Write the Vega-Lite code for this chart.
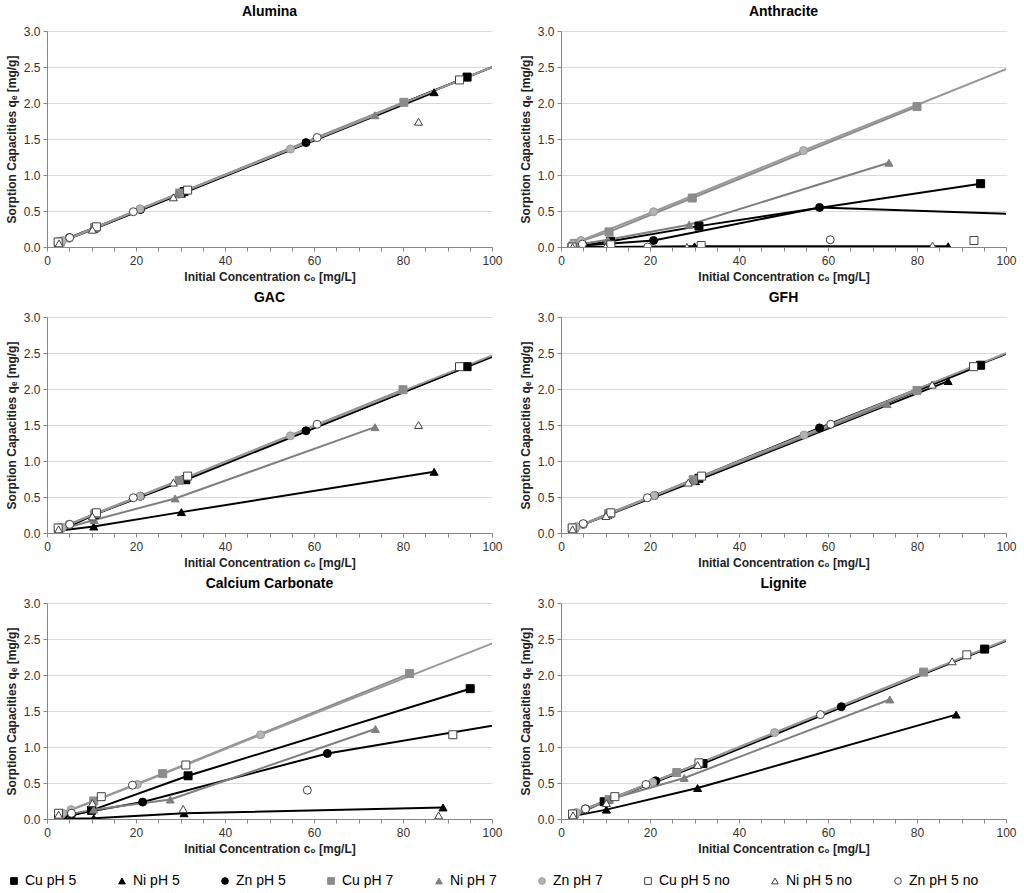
{
"$schema": "https://vega.github.io/schema/vega-lite/v6.json",
"padding": 5,
"data": {"values": [
{"panel":"Alumina","series":"Cu pH 5","c0":2.6,"q":0.06},{"panel":"Alumina","series":"Cu pH 5","c0":10.8,"q":0.27},{"panel":"Alumina","series":"Cu pH 5","c0":30.8,"q":0.77},{"panel":"Alumina","series":"Cu pH 5","c0":94.4,"q":2.36},
{"panel":"Alumina","series":"Ni pH 5","c0":2.6,"q":0.06},{"panel":"Alumina","series":"Ni pH 5","c0":10.5,"q":0.25},{"panel":"Alumina","series":"Ni pH 5","c0":30.2,"q":0.74},{"panel":"Alumina","series":"Ni pH 5","c0":87,"q":2.15},
{"panel":"Alumina","series":"Zn pH 5","c0":2.6,"q":0.06},{"panel":"Alumina","series":"Zn pH 5","c0":5,"q":0.13},{"panel":"Alumina","series":"Zn pH 5","c0":21,"q":0.52},{"panel":"Alumina","series":"Zn pH 5","c0":58.2,"q":1.45},{"panel":"Alumina","series":"Zn pH 5","c0":112,"q":2.8},
{"panel":"Alumina","series":"Cu pH 7","c0":3,"q":0.07},{"panel":"Alumina","series":"Cu pH 7","c0":10.8,"q":0.27},{"panel":"Alumina","series":"Cu pH 7","c0":29.8,"q":0.75},{"panel":"Alumina","series":"Cu pH 7","c0":80.2,"q":2.01},
{"panel":"Alumina","series":"Ni pH 7","c0":2.6,"q":0.06},{"panel":"Alumina","series":"Ni pH 7","c0":10.3,"q":0.25},{"panel":"Alumina","series":"Ni pH 7","c0":29.2,"q":0.73},{"panel":"Alumina","series":"Ni pH 7","c0":73.7,"q":1.83},
{"panel":"Alumina","series":"Zn pH 7","c0":3.5,"q":0.09},{"panel":"Alumina","series":"Zn pH 7","c0":5,"q":0.12},{"panel":"Alumina","series":"Zn pH 7","c0":20.9,"q":0.53},{"panel":"Alumina","series":"Zn pH 7","c0":54.7,"q":1.36},{"panel":"Alumina","series":"Zn pH 7","c0":112,"q":2.8},
{"panel":"Alumina","series":"Cu pH 5 no","c0":2.5,"q":0.07},{"panel":"Alumina","series":"Cu pH 5 no","c0":11.1,"q":0.28},{"panel":"Alumina","series":"Cu pH 5 no","c0":31.6,"q":0.79},{"panel":"Alumina","series":"Cu pH 5 no","c0":92.7,"q":2.32},
{"panel":"Alumina","series":"Ni pH 5 no","c0":2.7,"q":0.05},{"panel":"Alumina","series":"Ni pH 5 no","c0":10.2,"q":0.24},{"panel":"Alumina","series":"Ni pH 5 no","c0":28.4,"q":0.69},{"panel":"Alumina","series":"Ni pH 5 no","c0":83.5,"q":1.74},
{"panel":"Alumina","series":"Zn pH 5 no","c0":5.1,"q":0.13},{"panel":"Alumina","series":"Zn pH 5 no","c0":19.4,"q":0.49},{"panel":"Alumina","series":"Zn pH 5 no","c0":60.7,"q":1.52},

{"panel":"Anthracite","series":"Cu pH 5","c0":2.5,"q":0.0},{"panel":"Anthracite","series":"Cu pH 5","c0":11.1,"q":0.08},{"panel":"Anthracite","series":"Cu pH 5","c0":31,"q":0.29},{"panel":"Anthracite","series":"Cu pH 5","c0":94.3,"q":0.88},
{"panel":"Anthracite","series":"Ni pH 5","c0":2.5,"q":0.0},{"panel":"Anthracite","series":"Ni pH 5","c0":10.3,"q":0.0},{"panel":"Anthracite","series":"Ni pH 5","c0":30,"q":0.01},{"panel":"Anthracite","series":"Ni pH 5","c0":87,"q":0.01},
{"panel":"Anthracite","series":"Zn pH 5","c0":2.5,"q":0.0},{"panel":"Anthracite","series":"Zn pH 5","c0":5,"q":0.02},{"panel":"Anthracite","series":"Zn pH 5","c0":20.8,"q":0.09},{"panel":"Anthracite","series":"Zn pH 5","c0":58.1,"q":0.55},{"panel":"Anthracite","series":"Zn pH 5","c0":115,"q":0.43},
{"panel":"Anthracite","series":"Cu pH 7","c0":3,"q":0.05},{"panel":"Anthracite","series":"Cu pH 7","c0":10.8,"q":0.21},{"panel":"Anthracite","series":"Cu pH 7","c0":29.5,"q":0.68},{"panel":"Anthracite","series":"Cu pH 7","c0":80,"q":1.95},
{"panel":"Anthracite","series":"Ni pH 7","c0":2.6,"q":0.02},{"panel":"Anthracite","series":"Ni pH 7","c0":10.5,"q":0.1},{"panel":"Anthracite","series":"Ni pH 7","c0":28.8,"q":0.31},{"panel":"Anthracite","series":"Ni pH 7","c0":73.7,"q":1.17},
{"panel":"Anthracite","series":"Zn pH 7","c0":2.6,"q":0.04},{"panel":"Anthracite","series":"Zn pH 7","c0":4.5,"q":0.09},{"panel":"Anthracite","series":"Zn pH 7","c0":20.8,"q":0.49},{"panel":"Anthracite","series":"Zn pH 7","c0":54.5,"q":1.34},{"panel":"Anthracite","series":"Zn pH 7","c0":110,"q":2.72},
{"panel":"Anthracite","series":"Cu pH 5 no","c0":2.5,"q":0.0},{"panel":"Anthracite","series":"Cu pH 5 no","c0":11.2,"q":0.03},{"panel":"Anthracite","series":"Cu pH 5 no","c0":31.5,"q":0.02},{"panel":"Anthracite","series":"Cu pH 5 no","c0":92.8,"q":0.09},
{"panel":"Anthracite","series":"Ni pH 5 no","c0":2.6,"q":0.0},{"panel":"Anthracite","series":"Ni pH 5 no","c0":10,"q":0.0},{"panel":"Anthracite","series":"Ni pH 5 no","c0":28.3,"q":0.0},{"panel":"Anthracite","series":"Ni pH 5 no","c0":83.5,"q":0.02},
{"panel":"Anthracite","series":"Zn pH 5 no","c0":4.8,"q":0.04},{"panel":"Anthracite","series":"Zn pH 5 no","c0":19.5,"q":0.0},{"panel":"Anthracite","series":"Zn pH 5 no","c0":60.5,"q":0.1},

{"panel":"GAC","series":"Cu pH 5","c0":2.6,"q":0.02},{"panel":"GAC","series":"Cu pH 5","c0":10.8,"q":0.26},{"panel":"GAC","series":"Cu pH 5","c0":31.2,"q":0.74},{"panel":"GAC","series":"Cu pH 5","c0":94.4,"q":2.31},
{"panel":"GAC","series":"Ni pH 5","c0":2.6,"q":0.03},{"panel":"GAC","series":"Ni pH 5","c0":10.5,"q":0.09},{"panel":"GAC","series":"Ni pH 5","c0":30.2,"q":0.29},{"panel":"GAC","series":"Ni pH 5","c0":87,"q":0.85},
{"panel":"GAC","series":"Zn pH 5","c0":2.6,"q":0.05},{"panel":"GAC","series":"Zn pH 5","c0":5,"q":0.12},{"panel":"GAC","series":"Zn pH 5","c0":21,"q":0.51},{"panel":"GAC","series":"Zn pH 5","c0":58.2,"q":1.42},{"panel":"GAC","series":"Zn pH 5","c0":112,"q":2.74},
{"panel":"GAC","series":"Cu pH 7","c0":3,"q":0.07},{"panel":"GAC","series":"Cu pH 7","c0":10.8,"q":0.27},{"panel":"GAC","series":"Cu pH 7","c0":29.7,"q":0.73},{"panel":"GAC","series":"Cu pH 7","c0":80,"q":1.99},
{"panel":"GAC","series":"Ni pH 7","c0":2.6,"q":0.04},{"panel":"GAC","series":"Ni pH 7","c0":10.6,"q":0.18},{"panel":"GAC","series":"Ni pH 7","c0":28.8,"q":0.48},{"panel":"GAC","series":"Ni pH 7","c0":73.7,"q":1.47},
{"panel":"GAC","series":"Zn pH 7","c0":3.5,"q":0.08},{"panel":"GAC","series":"Zn pH 7","c0":5,"q":0.12},{"panel":"GAC","series":"Zn pH 7","c0":20.9,"q":0.51},{"panel":"GAC","series":"Zn pH 7","c0":54.7,"q":1.35},{"panel":"GAC","series":"Zn pH 7","c0":112,"q":2.76},
{"panel":"GAC","series":"Cu pH 5 no","c0":2.5,"q":0.07},{"panel":"GAC","series":"Cu pH 5 no","c0":11.1,"q":0.28},{"panel":"GAC","series":"Cu pH 5 no","c0":31.6,"q":0.79},{"panel":"GAC","series":"Cu pH 5 no","c0":92.7,"q":2.31},
{"panel":"GAC","series":"Ni pH 5 no","c0":2.6,"q":0.05},{"panel":"GAC","series":"Ni pH 5 no","c0":10.2,"q":0.23},{"panel":"GAC","series":"Ni pH 5 no","c0":28.4,"q":0.7},{"panel":"GAC","series":"Ni pH 5 no","c0":83.5,"q":1.5},
{"panel":"GAC","series":"Zn pH 5 no","c0":5.1,"q":0.12},{"panel":"GAC","series":"Zn pH 5 no","c0":19.4,"q":0.49},{"panel":"GAC","series":"Zn pH 5 no","c0":60.7,"q":1.51},

{"panel":"GFH","series":"Cu pH 5","c0":2.6,"q":0.06},{"panel":"GFH","series":"Cu pH 5","c0":10.8,"q":0.27},{"panel":"GFH","series":"Cu pH 5","c0":31,"q":0.76},{"panel":"GFH","series":"Cu pH 5","c0":94.3,"q":2.33},
{"panel":"GFH","series":"Ni pH 5","c0":2.6,"q":0.06},{"panel":"GFH","series":"Ni pH 5","c0":10.5,"q":0.25},{"panel":"GFH","series":"Ni pH 5","c0":30.2,"q":0.72},{"panel":"GFH","series":"Ni pH 5","c0":87,"q":2.11},
{"panel":"GFH","series":"Zn pH 5","c0":2.6,"q":0.06},{"panel":"GFH","series":"Zn pH 5","c0":5,"q":0.12},{"panel":"GFH","series":"Zn pH 5","c0":21,"q":0.52},{"panel":"GFH","series":"Zn pH 5","c0":58.1,"q":1.46},{"panel":"GFH","series":"Zn pH 5","c0":112,"q":2.78},
{"panel":"GFH","series":"Cu pH 7","c0":3,"q":0.07},{"panel":"GFH","series":"Cu pH 7","c0":10.8,"q":0.27},{"panel":"GFH","series":"Cu pH 7","c0":29.7,"q":0.74},{"panel":"GFH","series":"Cu pH 7","c0":80,"q":1.98},
{"panel":"GFH","series":"Ni pH 7","c0":2.6,"q":0.06},{"panel":"GFH","series":"Ni pH 7","c0":10.3,"q":0.25},{"panel":"GFH","series":"Ni pH 7","c0":29.3,"q":0.72},{"panel":"GFH","series":"Ni pH 7","c0":73.3,"q":1.79},
{"panel":"GFH","series":"Zn pH 7","c0":3.5,"q":0.09},{"panel":"GFH","series":"Zn pH 7","c0":5,"q":0.12},{"panel":"GFH","series":"Zn pH 7","c0":20.9,"q":0.52},{"panel":"GFH","series":"Zn pH 7","c0":54.6,"q":1.36},{"panel":"GFH","series":"Zn pH 7","c0":112,"q":2.8},
{"panel":"GFH","series":"Cu pH 5 no","c0":2.5,"q":0.07},{"panel":"GFH","series":"Cu pH 5 no","c0":11.2,"q":0.28},{"panel":"GFH","series":"Cu pH 5 no","c0":31.6,"q":0.79},{"panel":"GFH","series":"Cu pH 5 no","c0":92.7,"q":2.31},
{"panel":"GFH","series":"Ni pH 5 no","c0":2.6,"q":0.05},{"panel":"GFH","series":"Ni pH 5 no","c0":10.1,"q":0.235},{"panel":"GFH","series":"Ni pH 5 no","c0":28.6,"q":0.7},{"panel":"GFH","series":"Ni pH 5 no","c0":83.4,"q":2.06},
{"panel":"GFH","series":"Zn pH 5 no","c0":5,"q":0.13},{"panel":"GFH","series":"Zn pH 5 no","c0":19.4,"q":0.49},{"panel":"GFH","series":"Zn pH 5 no","c0":60.6,"q":1.51},

{"panel":"Calcium Carbonate","series":"Cu pH 5","c0":2.6,"q":0.0},{"panel":"Calcium Carbonate","series":"Cu pH 5","c0":10,"q":0.12},{"panel":"Calcium Carbonate","series":"Cu pH 5","c0":31.7,"q":0.6},{"panel":"Calcium Carbonate","series":"Cu pH 5","c0":95.1,"q":1.81},
{"panel":"Calcium Carbonate","series":"Ni pH 5","c0":2.6,"q":0.0},{"panel":"Calcium Carbonate","series":"Ni pH 5","c0":10.5,"q":0.01},{"panel":"Calcium Carbonate","series":"Ni pH 5","c0":30.8,"q":0.08},{"panel":"Calcium Carbonate","series":"Ni pH 5","c0":89,"q":0.16},
{"panel":"Calcium Carbonate","series":"Zn pH 5","c0":2.6,"q":0.03},{"panel":"Calcium Carbonate","series":"Zn pH 5","c0":5.5,"q":0.06},{"panel":"Calcium Carbonate","series":"Zn pH 5","c0":21.5,"q":0.235},{"panel":"Calcium Carbonate","series":"Zn pH 5","c0":63,"q":0.91},{"panel":"Calcium Carbonate","series":"Zn pH 5","c0":115,"q":1.45},
{"panel":"Calcium Carbonate","series":"Cu pH 7","c0":3,"q":0.07},{"panel":"Calcium Carbonate","series":"Cu pH 7","c0":10.5,"q":0.25},{"panel":"Calcium Carbonate","series":"Cu pH 7","c0":26,"q":0.63},{"panel":"Calcium Carbonate","series":"Cu pH 7","c0":81.5,"q":2.02},
{"panel":"Calcium Carbonate","series":"Ni pH 7","c0":2.6,"q":0.04},{"panel":"Calcium Carbonate","series":"Ni pH 7","c0":10.5,"q":0.13},{"panel":"Calcium Carbonate","series":"Ni pH 7","c0":27.7,"q":0.27},{"panel":"Calcium Carbonate","series":"Ni pH 7","c0":73.8,"q":1.25},
{"panel":"Calcium Carbonate","series":"Zn pH 7","c0":3.5,"q":0.08},{"panel":"Calcium Carbonate","series":"Zn pH 7","c0":5.4,"q":0.13},{"panel":"Calcium Carbonate","series":"Zn pH 7","c0":20.3,"q":0.48},{"panel":"Calcium Carbonate","series":"Zn pH 7","c0":48,"q":1.17},{"panel":"Calcium Carbonate","series":"Zn pH 7","c0":112,"q":2.73},
{"panel":"Calcium Carbonate","series":"Cu pH 5 no","c0":2.6,"q":0.08},{"panel":"Calcium Carbonate","series":"Cu pH 5 no","c0":12.2,"q":0.31},{"panel":"Calcium Carbonate","series":"Cu pH 5 no","c0":31.2,"q":0.75},{"panel":"Calcium Carbonate","series":"Cu pH 5 no","c0":91.2,"q":1.17},
{"panel":"Calcium Carbonate","series":"Ni pH 5 no","c0":2.6,"q":0.06},{"panel":"Calcium Carbonate","series":"Ni pH 5 no","c0":10.2,"q":0.22},{"panel":"Calcium Carbonate","series":"Ni pH 5 no","c0":30.6,"q":0.14},{"panel":"Calcium Carbonate","series":"Ni pH 5 no","c0":88,"q":0.05},
{"panel":"Calcium Carbonate","series":"Zn pH 5 no","c0":5.5,"q":0.08},{"panel":"Calcium Carbonate","series":"Zn pH 5 no","c0":19.2,"q":0.47},{"panel":"Calcium Carbonate","series":"Zn pH 5 no","c0":58.5,"q":0.4},

{"panel":"Lignite","series":"Cu pH 5","c0":2.7,"q":0.04},{"panel":"Lignite","series":"Cu pH 5","c0":9.7,"q":0.24},{"panel":"Lignite","series":"Cu pH 5","c0":31.9,"q":0.77},{"panel":"Lignite","series":"Cu pH 5","c0":95.2,"q":2.36},
{"panel":"Lignite","series":"Ni pH 5","c0":2.7,"q":0.04},{"panel":"Lignite","series":"Ni pH 5","c0":10.2,"q":0.13},{"panel":"Lignite","series":"Ni pH 5","c0":30.7,"q":0.43},{"panel":"Lignite","series":"Ni pH 5","c0":88.8,"q":1.45},
{"panel":"Lignite","series":"Zn pH 5","c0":2.7,"q":0.06},{"panel":"Lignite","series":"Zn pH 5","c0":5.5,"q":0.14},{"panel":"Lignite","series":"Zn pH 5","c0":21.3,"q":0.53},{"panel":"Lignite","series":"Zn pH 5","c0":63,"q":1.56},{"panel":"Lignite","series":"Zn pH 5","c0":112,"q":2.77},
{"panel":"Lignite","series":"Cu pH 7","c0":3,"q":0.07},{"panel":"Lignite","series":"Cu pH 7","c0":10.8,"q":0.27},{"panel":"Lignite","series":"Cu pH 7","c0":26,"q":0.645},{"panel":"Lignite","series":"Cu pH 7","c0":81.5,"q":2.04},
{"panel":"Lignite","series":"Ni pH 7","c0":2.7,"q":0.05},{"panel":"Lignite","series":"Ni pH 7","c0":10.8,"q":0.27},{"panel":"Lignite","series":"Ni pH 7","c0":27.7,"q":0.57},{"panel":"Lignite","series":"Ni pH 7","c0":73.9,"q":1.66},
{"panel":"Lignite","series":"Zn pH 7","c0":3.5,"q":0.09},{"panel":"Lignite","series":"Zn pH 7","c0":5.4,"q":0.14},{"panel":"Lignite","series":"Zn pH 7","c0":20.6,"q":0.51},{"panel":"Lignite","series":"Zn pH 7","c0":48,"q":1.2},{"panel":"Lignite","series":"Zn pH 7","c0":112,"q":2.78},
{"panel":"Lignite","series":"Cu pH 5 no","c0":2.6,"q":0.07},{"panel":"Lignite","series":"Cu pH 5 no","c0":12.1,"q":0.31},{"panel":"Lignite","series":"Cu pH 5 no","c0":31,"q":0.78},{"panel":"Lignite","series":"Cu pH 5 no","c0":91.2,"q":2.28},
{"panel":"Lignite","series":"Ni pH 5 no","c0":2.7,"q":0.05},{"panel":"Lignite","series":"Ni pH 5 no","c0":10.2,"q":0.22},{"panel":"Lignite","series":"Ni pH 5 no","c0":30.7,"q":0.75},{"panel":"Lignite","series":"Ni pH 5 no","c0":87.9,"q":2.19},
{"panel":"Lignite","series":"Zn pH 5 no","c0":5.5,"q":0.14},{"panel":"Lignite","series":"Zn pH 5 no","c0":19.1,"q":0.48},{"panel":"Lignite","series":"Zn pH 5 no","c0":58.3,"q":1.45}
]},
"facet": {"field": "panel", "type": "nominal", "sort": ["Alumina","Anthracite","GAC","GFH","Calcium Carbonate","Lignite"], "header": {"title": null}},
"columns": 2,
"spacing": {"row": 9, "column": 16},
"resolve": {"axis": {"x": "independent", "y": "independent"}},
"spec": {
  "width": 445,
  "height": 216,
  "encoding": {
    "x": {"field": "c0", "type": "quantitative", "scale": {"domain": [0,100], "nice": false},
      "axis": {"title": "Initial Concentration c₀ [mg/L]", "values": [0,5,10,15,20,25,30,35,40,45,50,55,60,65,70,75,80,85,90,95,100],
               "labelExpr": "datum.value % 20 === 0 ? datum.label : ''", "labelOverlap": false, "grid": false, "tickSize": 4, "labelPadding": 4, "titlePadding": 5}},
    "y": {"field": "q", "type": "quantitative", "scale": {"domain": [0,3], "nice": false},
      "axis": {"title": "Sorption Capacities qₑ [mg/g]", "values": [0,0.5,1,1.5,2,2.5,3], "tickCount": 7, "labelOverlap": false, "format": ".1f", "grid": true, "tickSize": 4, "labelPadding": 3, "titlePadding": 5}}
  },
  "layer": [
    {
      "transform": [{"filter": {"field": "series", "oneOf": ["Cu pH 5","Ni pH 5","Zn pH 5","Cu pH 7","Ni pH 7","Zn pH 7"]}}],
      "mark": {"type": "line", "strokeWidth": 2, "clip": true},
      "encoding": {
        "detail": {"field": "series", "type": "nominal"},
        "stroke": {"field": "series", "type": "nominal", "title": null,
          "scale": {"domain": ["Cu pH 5","Ni pH 5","Zn pH 5","Cu pH 7","Ni pH 7","Zn pH 7","Cu pH 5 no","Ni pH 5 no","Zn pH 5 no"],
                    "range": ["#000000","#000000","#000000","#8c8c8c","#7f7f7f","#999999","#404040","#404040","#404040"]}}
      }
    },
    {
      "mark": {"type": "point", "filled": true, "size": 64, "strokeWidth": 1, "opacity": 1, "clip": true},
      "encoding": {
        "shape": {"field": "series", "type": "nominal", "title": null,
          "scale": {"domain": ["Cu pH 5","Ni pH 5","Zn pH 5","Cu pH 7","Ni pH 7","Zn pH 7","Cu pH 5 no","Ni pH 5 no","Zn pH 5 no"],
                    "range": ["square","triangle-up","circle","square","triangle-up","circle","square","triangle-up","circle"]}},
        "fill": {"field": "series", "type": "nominal", "title": null,
          "scale": {"domain": ["Cu pH 5","Ni pH 5","Zn pH 5","Cu pH 7","Ni pH 7","Zn pH 7","Cu pH 5 no","Ni pH 5 no","Zn pH 5 no"],
                    "range": ["#000000","#000000","#000000","#8c8c8c","#7f7f7f","#b4b4b4","#ffffff","#ffffff","#ffffff"]}},
        "stroke": {"field": "series", "type": "nominal", "title": null}
      }
    }
  ]
},
"config": {
  "font": "Liberation Sans",
  "view": {"stroke": null},
  "axis": {"labelFont": "Liberation Sans", "labelFontSize": 12, "labelColor": "#333333", "titleFont": "Liberation Sans", "titleFontSize": 12, "titleFontWeight": "bold", "titleColor": "#222222", "domainColor": "#868686", "tickColor": "#868686", "gridColor": "#d9d9d9", "labelFlush": false},
  "header": {"labelFont": "Liberation Sans", "labelFontSize": 14, "labelFontWeight": "bold", "labelColor": "#000000", "labelPadding": 6},
  "legend": {"orient": "none", "legendX": -40, "legendY": 843, "direction": "horizontal", "columns": 9, "labelFont": "Liberation Sans", "labelFontSize": 14, "labelColor": "#000000", "symbolSize": 45, "symbolStrokeWidth": 1, "columnPadding": 38}
}
}
